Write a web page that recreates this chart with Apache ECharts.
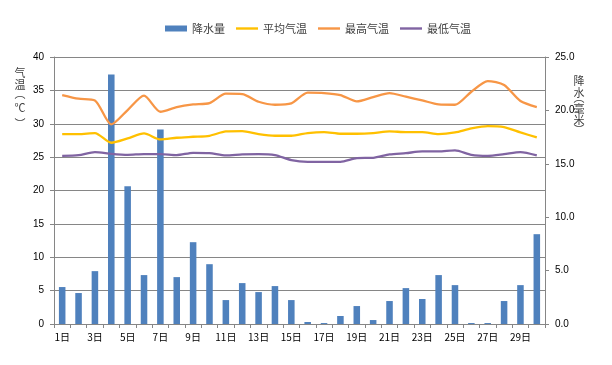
<!DOCTYPE html>
<html><head><meta charset="utf-8">
<script src="https://cdn.jsdelivr.net/npm/echarts@6/dist/echarts.min.js"></script>
<style>html,body{margin:0;padding:0;background:#fff}#c{width:612px;height:365px}</style>
</head><body><div id="c"></div>
<script>
const days = ['1日','2日','3日','4日','5日','6日','7日','8日','9日','10日','11日','12日','13日','14日','15日','16日','17日','18日','19日','20日','21日','22日','23日','24日','25日','26日','27日','28日','29日','30日'];
const rain = [3.46, 2.90, 4.95, 23.36, 12.9, 4.58, 18.2, 4.39, 7.66, 5.6, 2.24, 3.83, 2.99, 3.55, 2.24, 0.19, 0.09, 0.75, 1.68, 0.37, 2.15, 3.36, 2.34, 4.58, 3.64, 0.09, 0.09, 2.15, 3.64, 8.41];
const avgT = [28.45, 28.45, 28.6, 27.15, 27.8, 28.55, 27.65, 27.9, 28.05, 28.2, 28.85, 28.9, 28.45, 28.2, 28.2, 28.6, 28.75, 28.5, 28.5, 28.6, 28.85, 28.75, 28.75, 28.45, 28.7, 29.3, 29.65, 29.5, 28.7, 27.95];
const maxT = [34.3, 33.75, 33.5, 29.9, 32.05, 34.2, 31.8, 32.5, 32.9, 33.1, 34.5, 34.45, 33.3, 32.85, 33.05, 34.65, 34.6, 34.3, 33.35, 34.0, 34.6, 34.05, 33.5, 32.9, 32.85, 34.8, 36.4, 35.8, 33.4, 32.5];
const minT = [25.2, 25.3, 25.75, 25.5, 25.35, 25.45, 25.45, 25.3, 25.65, 25.6, 25.25, 25.4, 25.45, 25.3, 24.55, 24.3, 24.3, 24.3, 24.85, 24.9, 25.4, 25.6, 25.85, 25.85, 26.0, 25.35, 25.2, 25.45, 25.75, 25.25];
const seriesNames = ['降水量','平均气温','最高气温','最低气温'];
const leftTitle = ['气','温','︵','℃','︶'];
const rightTitle = ['降','水','︵','毫','米','︶'];

const FONT = "'Liberation Sans','Noto Sans CJK SC',sans-serif";
const CJK = "'Noto Sans CJK SC',sans-serif";
const axisColor = '#868686';
const lineIcon = 'path://M0,0L22,0L22,2.4L0,2.4Z';
const chart = echarts.init(document.getElementById('c'), null, {renderer:'canvas'});
const lineSeries = (name, data, color) => ({
  name, type:'line', data, yAxisIndex:0, smooth:0.25, symbol:'none', showSymbol:false,
  lineStyle:{color, width:2.3}, itemStyle:{color}, z:3
});
const leftY = [73, 84.5, 94, 108, 124];
const rightY = [81, 93, 97.5, 108.5, 119.5, 130];
const vText = (chars, ys, x) => chars.map((ch, i) => ({
  type:'text', x, y: ys[i], silent:true,
  style:{text:ch, align:'center', verticalAlign:'middle', fontFamily:CJK, fontSize:11, fill:'#404040'}
}));
chart.setOption({
  animation:false,
  textStyle:{fontFamily:FONT},
  legend:{
    top:18, left:160, itemWidth:22, itemHeight:6, itemGap:11,
    textStyle:{fontFamily:CJK, fontSize:11, color:'#404040'},
    data:[{name:seriesNames[0], icon:'rect'},
          {name:seriesNames[1], icon:lineIcon},
          {name:seriesNames[2], icon:lineIcon},
          {name:seriesNames[3], icon:lineIcon}]
  },
  grid:{left:54, right:67, top:57, bottom:41, containLabel:false},
  xAxis:{
    type:'category', data:days, boundaryGap:true,
    axisLine:{lineStyle:{color:axisColor, width:1}},
    axisTick:{show:true, interval:0, length:4, lineStyle:{color:axisColor}},
    axisLabel:{interval:1, margin:8, fontSize:10, color:'#000', fontFamily:CJK}
  },
  yAxis:[
    {type:'value', min:0, max:40, interval:5, position:'left',
     axisLine:{show:true, lineStyle:{color:axisColor}},
     axisTick:{show:true, length:4, lineStyle:{color:axisColor}},
     axisLabel:{margin:10, fontSize:10, color:'#000'},
     splitLine:{show:true, lineStyle:{color:axisColor, width:1}}},
    {type:'value', min:0, max:25, interval:5, position:'right',
     axisLine:{show:true, lineStyle:{color:axisColor}},
     axisTick:{show:true, length:4, lineStyle:{color:axisColor}},
     axisLabel:{margin:10, fontSize:10, color:'#000', formatter:v=>v.toFixed(1)},
     splitLine:{show:false}}
  ],
  graphic: vText(leftTitle, leftY, 20).concat(vText(rightTitle, rightY, 579)),
  series:[
    {name:seriesNames[0], type:'bar', data:rain, yAxisIndex:1, barWidth:'40%',
     itemStyle:{color:'#4F81BD'}, z:2},
    lineSeries(seriesNames[1], avgT, '#FFC000'),
    lineSeries(seriesNames[2], maxT, '#F79646'),
    lineSeries(seriesNames[3], minT, '#8064A2')
  ]
});
</script></body></html>
